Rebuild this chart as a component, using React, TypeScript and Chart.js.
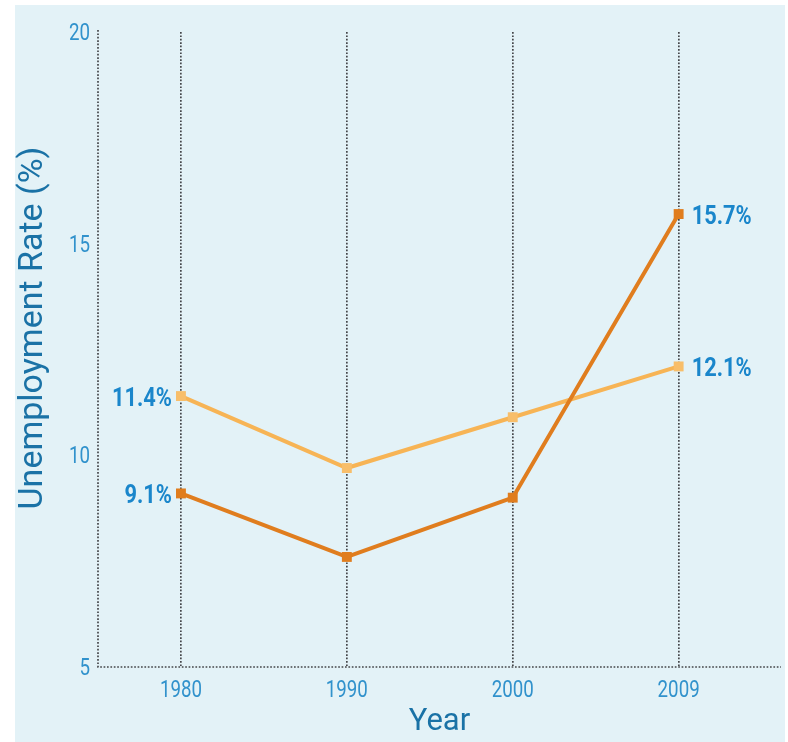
import { useEffect, useRef } from 'react';
import { Chart, registerables } from 'chart.js';

Chart.register(...registerables);

// Unemployment rate (%) by year for two groups
const years = ['1980', '1990', '2000', '2009'];
const lightSeries = [11.4, 9.7, 10.9, 12.1];
const darkSeries = [9.1, 7.6, 9.0, 15.7];
const yTicks = [5, 10, 15, 20];

const FONT = '"Roboto", "Liberation Sans", sans-serif';
const TICK_BLUE = '#3192cc';
const TITLE_BLUE = '#1a72a6';
const LABEL_BLUE = '#1a86cb';
const DOT_GREY = '#45474a';
const DOTS = [1.7, 1.7];

// draw text squeezed horizontally to get a condensed face
function condensedText(
  ctx: CanvasRenderingContext2D,
  text: string,
  x: number,
  y: number,
  squeeze: number,
) {
  ctx.save();
  ctx.translate(x, y);
  ctx.scale(squeeze, 1);
  ctx.fillText(text, 0, 0);
  ctx.restore();
}

const panelPlugin = {
  id: 'panel',
  beforeDraw(chart: Chart) {
    const { ctx, width, height } = chart;
    ctx.save();
    ctx.fillStyle = '#ffffff';
    ctx.fillRect(0, 0, width, height);
    ctx.fillStyle = '#e3f2f7';
    ctx.fillRect(15, 5, width - 18, height - 5);
    ctx.restore();
  },
};

const axisPlugin = {
  id: 'axisDecor',
  beforeDatasetsDraw(chart: Chart) {
    const { ctx, chartArea, scales } = chart;
    const xs = scales.x;
    const ys = scales.y;
    ctx.save();
    // dotted axis lines
    ctx.strokeStyle = DOT_GREY;
    ctx.lineWidth = 1.7;
    ctx.setLineDash(DOTS);
    ctx.beginPath();
    ctx.moveTo(chartArea.left, chartArea.top - 2);
    ctx.lineTo(chartArea.left, chartArea.bottom);
    ctx.lineTo(chartArea.right, chartArea.bottom);
    ctx.stroke();
    ctx.setLineDash([]);
    // tick labels
    ctx.fillStyle = TICK_BLUE;
    ctx.font = `24px ${FONT}`;
    ctx.textBaseline = 'middle';
    ctx.textAlign = 'center';
    years.forEach((yr, i) => {
      condensedText(ctx, yr, xs.getPixelForValue(i), chartArea.bottom + 24, 0.78);
    });
    ctx.textAlign = 'right';
    yTicks.forEach((v) => {
      condensedText(ctx, String(v), chartArea.left - 8, ys.getPixelForValue(v) + 2, 0.78);
    });
    ctx.restore();
  },
};

const textPlugin = {
  id: 'texts',
  afterDatasetsDraw(chart: Chart) {
    const { ctx, chartArea } = chart;
    ctx.save();
    // value labels at the first and last point of each series
    ctx.fillStyle = LABEL_BLUE;
    ctx.font = `bold 26px ${FONT}`;
    ctx.textBaseline = 'middle';
    chart.data.datasets.forEach((ds, di) => {
      const meta = chart.getDatasetMeta(di);
      const values = ds.data as { x: number; y: number }[];
      const first = meta.data[0];
      const last = meta.data[values.length - 1];
      ctx.textAlign = 'right';
      condensedText(ctx, `${values[0].y.toFixed(1)}%`, first.x - 9, first.y + 3, 0.84);
      ctx.textAlign = 'left';
      condensedText(ctx, `${values[values.length - 1].y.toFixed(1)}%`, last.x + 13, last.y + 3, 0.84);
    });
    // axis titles
    ctx.fillStyle = TITLE_BLUE;
    ctx.textAlign = 'center';
    ctx.textBaseline = 'middle';
    ctx.font = `31px ${FONT}`;
    ctx.fillText('Year', (chartArea.left + chartArea.right) / 2, 722);
    ctx.save();
    ctx.translate(33, 328);
    ctx.rotate(-Math.PI / 2);
    ctx.font = `34px ${FONT}`;
    ctx.fillText('Unemployment Rate (%)', 0, 0);
    ctx.restore();
    ctx.restore();
  },
};

export default function App() {
  const canvasRef = useRef<HTMLCanvasElement>(null);

  useEffect(() => {
    const canvas = canvasRef.current;
    if (!canvas) return;
    const toPoints = (arr: number[]) => arr.map((y, i) => ({ x: i, y }));
    const chart = new Chart(canvas, {
      type: 'line',
      data: {
        datasets: [
          {
            label: 'dark',
            data: toPoints(darkSeries),
            borderColor: '#e07d1e',
            backgroundColor: '#e07d1e',
            borderWidth: 4,
            pointStyle: 'rect',
            pointRadius: 7,
            pointBorderWidth: 0,
            tension: 0,
          },
          {
            label: 'light',
            data: toPoints(lightSeries),
            borderColor: '#f7b455',
            backgroundColor: '#f8be6a',
            borderWidth: 4,
            pointStyle: 'rect',
            pointRadius: 7,
            pointBorderWidth: 0,
            tension: 0,
          },
        ],
      },
      options: {
        responsive: false,
        animation: false,
        devicePixelRatio: 1,
        layout: { padding: { left: 0, top: 32, right: 3, bottom: 0 } },
        plugins: {
          legend: { display: false },
          tooltip: { enabled: false },
        },
        scales: {
          x: {
            type: 'linear',
            min: -0.5,
            max: 3.617,
            afterBuildTicks: (scale: any) => {
              scale.ticks = years.map((_, i) => ({ value: i }));
            },
            afterFit: (scale: any) => {
              scale.height = 75;
            },
            ticks: { display: false },
            grid: {
              display: true,
              drawTicks: false,
              color: DOT_GREY,
              lineWidth: 1.7,
            },
            border: {
              display: false,
              dash: DOTS,
            },
          },
          y: {
            type: 'linear',
            min: 5,
            max: 20,
            afterBuildTicks: (scale: any) => {
              scale.ticks = yTicks.map((v) => ({ value: v }));
            },
            afterFit: (scale: any) => {
              scale.width = 98;
            },
            ticks: { display: false },
            grid: {
              drawOnChartArea: false,
              drawTicks: false,
            },
            border: { display: false },
          },
        },
      },
      plugins: [panelPlugin, axisPlugin, textPlugin],
    });
    return () => chart.destroy();
  }, []);

  return (
    <div style={{ position: 'absolute', left: 0, top: 0, width: 788, height: 742 }}>
      <canvas ref={canvasRef} width={788} height={742} />
    </div>
  );
}
